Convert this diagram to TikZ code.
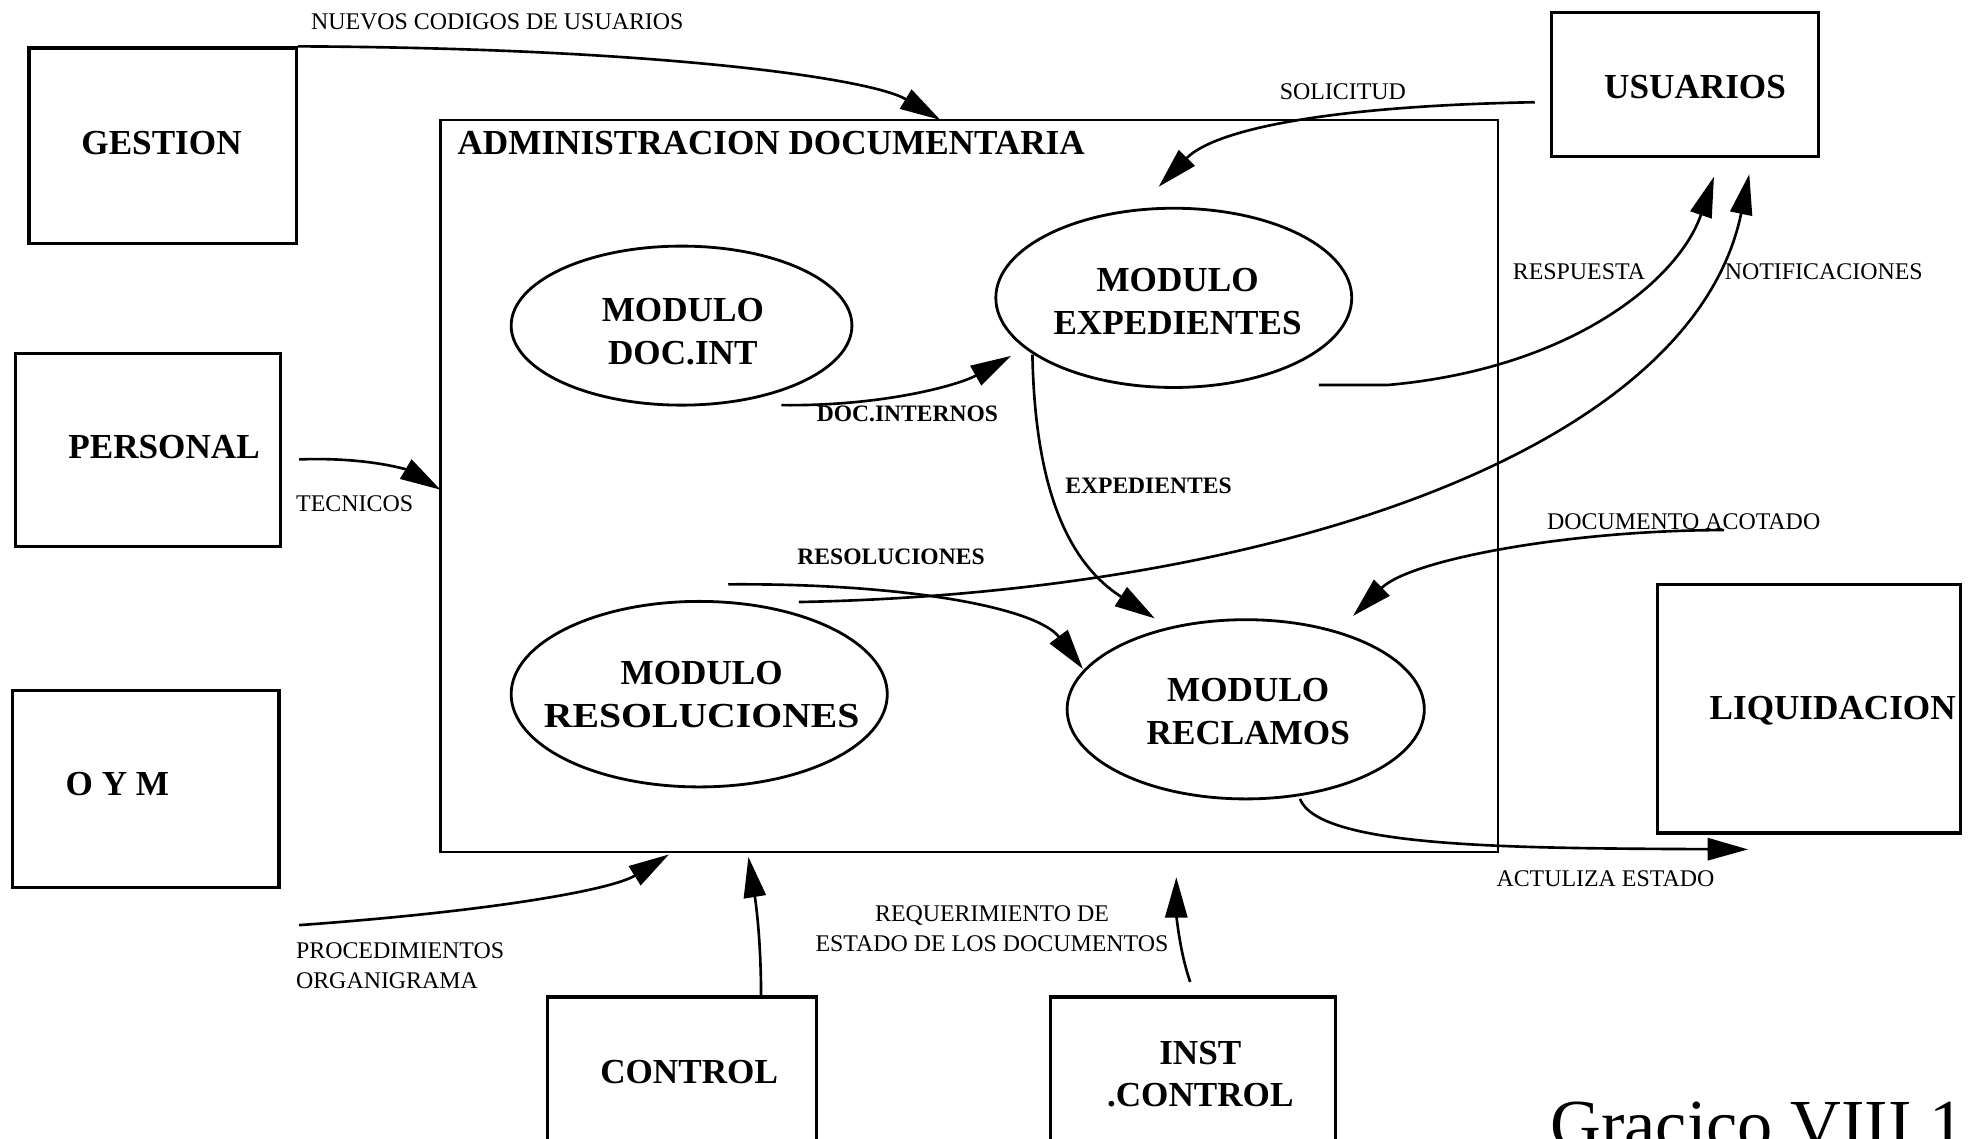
\documentclass[tikz,border=0pt]{standalone}
\usepackage{fontspec}
\usepackage{graphicx}
\setmainfont{Liberation Serif}
\usetikzlibrary{arrows.meta,shapes.geometric,fit}
\def\px{0.012621cm}
\begin{document}
\begin{tikzpicture}[x=0.012621cm,y=-0.012621cm,
  ext/.style={draw, line width=0.9pt, inner sep=0pt},
  sysbox/.style={draw, line width=0.7pt, inner sep=0pt},
  proc/.style={draw, ellipse, line width=0.8pt, inner sep=0pt},
  ptext/.style={align=center, inner sep=0pt, font=\fontsize{10}{12.2}\selectfont\bfseries},
  big/.style={font=\fontsize{10}{12}\selectfont\bfseries, inner sep=0pt},
  lbl/.style={font=\fontsize{6.8}{8.5}\selectfont, inner sep=0pt},
  blbl/.style={font=\fontsize{6.7}{8}\selectfont\bfseries, inner sep=0pt},
  flow/.style={line width=0.75pt, -{Triangle[length=11.5pt,width=6.3pt]}},
]
\useasboundingbox (0,0) rectangle (1568,902);
\clip (0,0) rectangle (1568,902);

% external entities
\node[ext, fit={(23,38)(235,193)}] (gestion) {};
\node[big] (tgestion) at (128,113) {GESTION};
\node[ext, fit={(12,280)(222,433)}] (personal) {};
\node[big] (tpersonal) at (130,354) {PERSONAL};
\node[ext, fit={(10,547)(221,703)}] (oym) {};
\node[big] (toym) at (93,621) {O Y M};
\node[ext, fit={(1229,10)(1441,124)}] (usuarios) {};
\node[big] (tusuarios) at (1343,69) {USUARIOS};
\node[ext, fit={(1313,463)(1553,660)}] (liquidacion) {};
\node[big, anchor=west] (tliquidacion) at (1354,563) {LIQUIDACION};
\node[ext, fit={(434,790)(647,930)}] (control) {};
\node[big] (tcontrol) at (546,849) {CONTROL};
\node[ext, fit={(832,790)(1058,930)}] (inst) {};
\node[ptext] (tinst) at (951,851) {INST\\.CONTROL};

% the system boundary
\node[sysbox, fit={(349,95)(1187,675)}] (admin) {};
\node[big, anchor=west] (tadmin) at (362,113) {ADMINISTRACION DOCUMENTARIA};

% processes
\node[proc, minimum width=270*\px, minimum height=126*\px] (docint) at (540,258) {};
\node[ptext] (tdocint) at (541,263) {MODULO\\DOC.INT};
\node[proc, minimum width=282*\px, minimum height=142*\px] (exped) at (930,236) {};
\node[ptext] (texped) at (933,239) {MODULO\\EXPEDIENTES};
\node[proc, minimum width=298*\px, minimum height=147*\px] (resol) at (554,550) {};
\node[ptext] (tresol) at (556,550) {MODULO\\\scalebox{1.13}[1]{RESOLUCIONES}};
\node[proc, minimum width=283*\px, minimum height=142*\px] (reclamos) at (987,562) {};
\node[ptext] (treclamos) at (989,564) {MODULO\\RECLAMOS};

% free ends of the flows
\coordinate (gtip) at (745,95);
\coordinate (ptail) at (237,364);
\coordinate (ptip) at (349,388);
\coordinate (otail) at (237,733);
\coordinate (otip) at (530,677);
\coordinate (ctail) at (603,790);
\coordinate (ctip) at (593,679);
\coordinate (itail) at (943,778);
\coordinate (itip) at (932,695);
\coordinate (stail) at (1216,81);
\coordinate (stip) at (918,148);
\coordinate (rtail) at (1045,305);
\coordinate (rbend) at (1100,305);
\coordinate (rtip) at (1358,140);
\coordinate (ntail) at (633,477);
\coordinate (ntip) at (1386,138);
\coordinate (dtail) at (619,321);
\coordinate (dtip) at (801,282);
\coordinate (etail) at (818,281);
\coordinate (etip) at (915,490);
\coordinate (rstail) at (577,463);
\coordinate (rstip) at (858,530);
\coordinate (atail) at (1366,420);
\coordinate (atip) at (1072,488);
\coordinate (ltail) at (1030,633);
\coordinate (ltip) at (1385,673);

% flows
\draw[flow] (gestion.north east) .. controls (520,38) and (690,62) .. (gtip);
\draw[flow] (ptail) .. controls (290,362) and (322,372) .. (ptip);
\draw[flow] (otail) .. controls (390,722) and (485,705) .. (otip);
\draw[flow] (ctail) .. controls (603,740) and (598,710) .. (ctip);
\draw[flow] (itail) .. controls (934,752) and (932,722) .. (itip);
\draw[flow] (stail) .. controls (1050,84) and (962,103) .. (stip);
\draw[flow] (rtail) -- (rbend) .. controls (1245,292) and (1330,222) .. (rtip);
\draw[flow] (ntail) .. controls (1000,470) and (1340,360) .. (ntip);
\draw[flow] (dtail) .. controls (700,322) and (760,305) .. (dtip);
\draw[flow] (etail) .. controls (820,385) and (845,445) .. (etip);
\draw[flow] (rstail) .. controls (720,462) and (822,482) .. (rstip);
\draw[flow] (atail) .. controls (1245,420) and (1118,443) .. (atip);
\draw[flow] (ltail) .. controls (1045,672) and (1200,672) .. (ltip);

% flow labels
\node[lbl] (l1) at (394,17) {NUEVOS CODIGOS DE USUARIOS};
\node[lbl] (l2) at (281,399) {TECNICOS};
\node[lbl, anchor=west, align=left] (l3) at (234,765) {PROCEDIMIENTOS\\ORGANIGRAMA};
\node[lbl, align=center] (l4) at (786,736) {REQUERIMIENTO DE\\ESTADO DE LOS DOCUMENTOS};
\node[lbl] (l5) at (1064,73) {SOLICITUD};
\node[lbl] (l6) at (1251,215) {RESPUESTA};
\node[lbl] (l7) at (1445,215) {NOTIFICACIONES};
\node[blbl] (l8) at (719,328) {DOC.INTERNOS};
\node[blbl] (l9) at (910,385) {EXPEDIENTES};
\node[blbl] (l10) at (706,441) {RESOLUCIONES};
\node[lbl] (l11) at (1334,413) {DOCUMENTO ACOTADO};
\node[lbl] (l12) at (1272,696) {ACTULIZA ESTADO};

% caption
\node[font=\fontsize{20}{24}\selectfont, anchor=base west, inner sep=0pt] (caption) at (1228,910) {Gracico VIII.1};
\end{tikzpicture}
\end{document}
